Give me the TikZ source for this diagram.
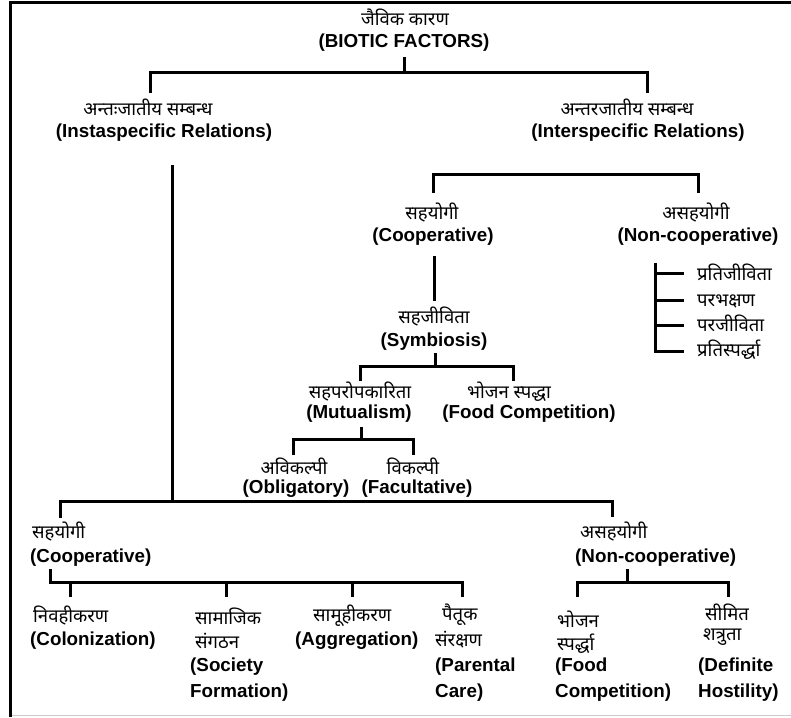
\documentclass[tikz,border=0pt]{standalone}
\usepackage{fontspec}
\setmainfont{Liberation Sans}
\newfontfamily\devafont[Script=Devanagari]{Noto Sans}
\newcommand\enfont{\fontsize{18.8}{22}\selectfont\bfseries}
\newcommand\hifont{\devafont\fontsize{18.5}{20}\selectfont}
\tikzset{
  en/.style={font=\enfont, inner sep=0pt},
  hi/.style={font=\hifont, inner sep=0pt},
  link/.style={line width=3pt, line join=miter},
}
\begin{document}
\begin{tikzpicture}[x=1pt,y=-1pt]
\useasboundingbox (0,0) rectangle (791,717);
% frame
\draw[line width=3pt] (10.5,717) -- (10.5,2.5) -- (791,2.5);
\draw[black!20, line width=1.2pt] (12,715.5) -- (791,715.5);

% ---- labels ----
\node[hi] (bioH) at (405,17) {जैविक कारण};
\node[en] (bioE) at (404,43) {(BIOTIC FACTORS)};

\node[hi] (intraH) at (148,107) {अन्तःजातीय सम्बन्ध};
\node[en] (intraE) at (164,133) {(Instaspecific Relations)};
\node[hi] (interH) at (627,107) {अन्तरजातीय सम्बन्ध};
\node[en] (interE) at (638,133) {(Interspecific Relations)};

\node[hi] (coopH) at (432,213) {सहयोगी};
\node[en] (coopE) at (433,237) {(Cooperative)};
\node[hi] (ncH) at (696,213) {असहयोगी};
\node[en] (ncE) at (698,237) {(Non-cooperative)};

\node[hi, anchor=base west] (l1) at (697,280) {प्रतिजीविता};
\node[hi, anchor=base west] (l2) at (697,306) {परभक्षण};
\node[hi, anchor=base west] (l3) at (697,331) {परजीविता};
\node[hi, anchor=base west] (l4) at (697,356) {प्रतिस्पर्द्धा};

\node[hi] (symH) at (434,317) {सहजीविता};
\node[en] (symE) at (434,342) {(Symbiosis)};

\node[hi] (mutH) at (360,392) {सहपरोपकारिता};
\node[en] (mutE) at (359,414) {(Mutualism)};
\node[hi] (foodH) at (509,392) {भोजन स्पद्धा};
\node[en] (foodE) at (529,414) {(Food Competition)};

\node[hi] (oblH) at (294,466) {अविकल्पी};
\node[en] (oblE) at (296,489) {(Obligatory)};
\node[hi] (facH) at (413,466) {विकल्पी};
\node[en] (facE) at (417,489) {(Facultative)};

\node[hi, anchor=west] (lcH) at (32,532) {सहयोगी};
\node[en, anchor=west] (lcE) at (30,558) {(Cooperative)};
\node[hi, anchor=west] (lnH) at (580,532) {असहयोगी};
\node[en, anchor=west] (lnE) at (575,558) {(Non-cooperative)};

\node[hi, anchor=west] (colH) at (33,616) {निवहीकरण};
\node[en, anchor=west] (colE) at (30,641) {(Colonization)};

\node[hi, anchor=west] (socH1) at (195,616) {सामाजिक};
\node[hi, anchor=west] (socH2) at (195,641) {संगठन};
\node[en, anchor=west] (socE1) at (190,667) {(Society};
\node[en, anchor=west] (socE2) at (190,693) {Formation)};

\node[hi, anchor=west] (aggH) at (313,616) {सामूहीकरण};
\node[en, anchor=west] (aggE) at (295,641) {(Aggregation)};

\node[hi, anchor=west] (parH1) at (442,615) {पैतूक};
\node[hi, anchor=west] (parH2) at (435,640) {संरक्षण};
\node[en, anchor=west] (parE1) at (435,667) {(Parental};
\node[en, anchor=west] (parE2) at (435,693) {Care)};

\node[hi, anchor=west] (fcH1) at (557,619) {भोजन};
\node[hi, anchor=west] (fcH2) at (557,644) {स्पर्द्धा};
\node[en, anchor=west] (fcE1) at (555,667) {(Food};
\node[en, anchor=west] (fcE2) at (555,693) {Competition)};

\node[hi, anchor=west] (dhH1) at (705,612) {सीमित};
\node[hi, anchor=west] (dhH2) at (703,637) {शत्रुता};
\node[en, anchor=west] (dhE1) at (698,667) {(Definite};
\node[en, anchor=west] (dhE2) at (698,693) {Hostility)};

% ---- junction points ----
\coordinate (bioStem) at (404,57);
\coordinate (bioBar) at (404,72);
\coordinate (intraDrop) at (150,93);
\coordinate (interDrop) at (647,93);

\coordinate (interBar) at (560,174);
\coordinate (coopDrop) at (433,193);
\coordinate (ncDrop) at (698,193);

\coordinate (coopStem) at (434,256);
\coordinate (symTop) at (434,301);

\coordinate (listTop) at (655,263);
\coordinate (t1) at (684,273);
\coordinate (t2) at (684,300);
\coordinate (t3) at (684,325);
\coordinate (t4) at (684,351);

\coordinate (symStem) at (435,353);
\coordinate (symBar) at (435,366);
\coordinate (mutDrop) at (360,381);
\coordinate (foodDrop) at (513,381);

\coordinate (mutStem) at (361,427);
\coordinate (mutBar) at (361,439);
\coordinate (oblDrop) at (293,455);
\coordinate (facDrop) at (413,455);

\coordinate (intraStem) at (172,165);
\coordinate (intraBar) at (172,501);
\coordinate (lcDrop) at (60,518);
\coordinate (lnDrop) at (612,517);

\coordinate (lcStem) at (50,569);
\coordinate (lcBarEnd) at (462,582);
\coordinate (parDrop) at (462,597);
\coordinate (colTop) at (70,582);
\coordinate (colDrop) at (70,597);
\coordinate (socTop) at (226,582);
\coordinate (socDrop) at (226,597);
\coordinate (aggTop) at (352,582);
\coordinate (aggDrop) at (352,597);

\coordinate (lnStem) at (627,569);
\coordinate (lnBar) at (627,582);
\coordinate (fcDrop) at (577,597);
\coordinate (dhDrop) at (728,597);

% ---- connectors ----
\draw[link] (bioStem) -- (bioBar);
\draw[link] (intraDrop) |- (bioBar) -| (interDrop);

\draw[link] (coopDrop) |- (interBar) -| (ncDrop);
\draw[link] (coopStem) -- (symTop);

\draw[link] (listTop) |- (t4);
\draw[link] (listTop |- t1) -- (t1);
\draw[link] (listTop |- t2) -- (t2);
\draw[link] (listTop |- t3) -- (t3);

\draw[link] (symStem) -- (symBar);
\draw[link] (mutDrop) |- (symBar) -| (foodDrop);

\draw[link] (mutStem) -- (mutBar);
\draw[link] (oblDrop) |- (mutBar) -| (facDrop);

\draw[link] (intraStem) -- (intraBar);
\draw[link] (lcDrop) |- (intraBar) -| (lnDrop);

\draw[link] (lcStem) |- (lcBarEnd) -- (parDrop);
\draw[link] (colTop) -- (colDrop);
\draw[link] (socTop) -- (socDrop);
\draw[link] (aggTop) -- (aggDrop);

\draw[link] (lnStem) -- (lnBar);
\draw[link] (fcDrop) |- (lnBar) -| (dhDrop);
\end{tikzpicture}
\end{document}
